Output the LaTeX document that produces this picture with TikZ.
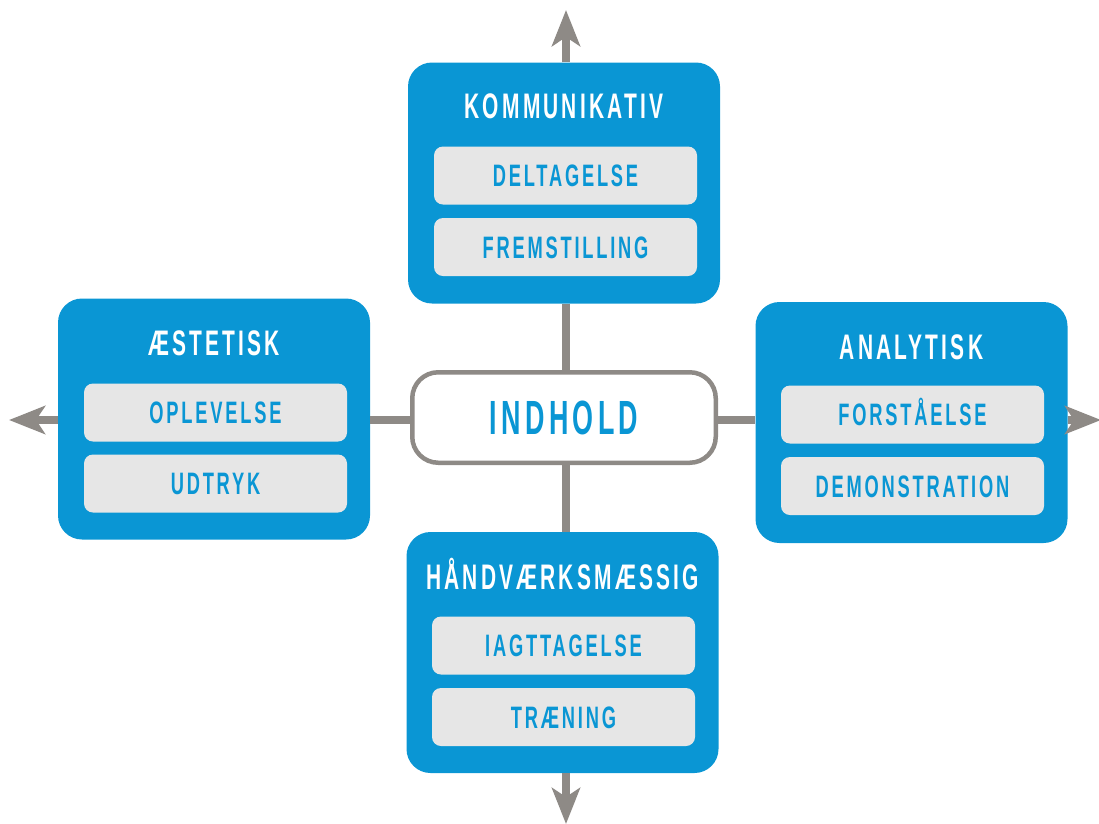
\documentclass[tikz,border=0pt]{standalone}
\usepackage{fontspec}
\newfontfamily\cf[FakeStretch=0.59,LetterSpace=9]{Liberation Sans}
\newfontfamily\cfc[FakeStretch=0.56,LetterSpace=9]{Liberation Sans}
\usetikzlibrary{arrows.meta}
\definecolor{boxblue}{HTML}{0A96D4}
\definecolor{subgray}{HTML}{E6E6E6}
\definecolor{linegray}{HTML}{8E8A86}
\begin{document}
\begin{tikzpicture}[x=1pt,y=-1pt,
  bluebox/.style={rectangle, rounded corners=24pt, fill=boxblue, minimum width=312pt, minimum height=241pt, inner sep=0pt},
  titletext/.style={inner sep=0pt, text=white, font=\cf\bfseries\fontsize{35.5}{36}\selectfont, text height=25pt, text depth=0pt},
  subbox/.style={rectangle, rounded corners=9pt, fill=subgray, minimum width=263pt, minimum height=58pt, inner sep=0pt, text=boxblue, font=\cf\bfseries\fontsize{31}{31}\selectfont, text height=22pt, text depth=0pt},
  centerbox/.style={rectangle, rounded corners=26pt, draw=linegray, line width=4.5pt, fill=white, minimum width=303.5pt, minimum height=90.5pt, inner sep=0pt, text=boxblue, font=\cfc\bfseries\fontsize{48}{48}\selectfont, text height=34pt, text depth=0pt},
  link/.style={draw=linegray, line width=8pt},
  outarrow/.style={link, -{Stealth[length=36pt,width=28pt,inset=9pt]}}
]
\useasboundingbox (0,0) rectangle (1099,823);

% center
\node[centerbox] (center) at (564,417.5) {INDHOLD};

% top
\node[bluebox] (top) at (564,183) {};
\node[titletext] (topT) at (564,106) {KOMMUNIKATIV};
\node[subbox] (topA) at (565.5,175.5) {DELTAGELSE};
\node[subbox] (topB) at (565.5,247) {FREMSTILLING};

% left
\node[bluebox] (left) at (214,419) {};
\node[titletext] (leftT) at (214,343) {ÆSTETISK};
\node[subbox] (leftA) at (215.5,412.5) {OPLEVELSE};
\node[subbox] (leftB) at (215.5,483.5) {UDTRYK};

% right
\node[bluebox] (right) at (911.5,422.5) {};
\node[titletext] (rightT) at (911.5,347) {ANALYTISK};
\node[subbox] (rightA) at (912.5,414.5) {FORSTÅELSE};
\node[subbox] (rightB) at (912.5,486) {DEMONSTRATION};

% bottom
\node[bluebox] (bottom) at (562.5,652.5) {};
\node[titletext] (bottomT) at (562.5,577) {HÅNDVÆRKSMÆSSIG};
\node[subbox] (bottomA) at (563.5,645.5) {IAGTTAGELSE};
\node[subbox] (bottomB) at (563.5,717) {TRÆNING};

% arrow tips
\coordinate (toptip) at (566,10);
\coordinate (bottip) at (566,824);
\coordinate (lefttip) at (9,420);
\coordinate (righttip) at (1101,420);

% connectors to center
\draw[link] (toptip |- top.south) -- (toptip |- center.north);
\draw[link] (toptip |- center.south) -- (toptip |- bottom.north);
\draw[link] (lefttip -| left.east) -- (lefttip -| center.west);
\draw[link] (lefttip -| center.east) -- (lefttip -| right.west);

% outward arrows
\draw[outarrow] (toptip |- top.north) -- (toptip);
\draw[outarrow] (bottip |- bottom.south) -- (bottip);
\draw[outarrow] (lefttip -| left.west) -- (lefttip);
\draw[outarrow] (righttip -| right.east) -- (righttip);
\end{tikzpicture}
\end{document}
